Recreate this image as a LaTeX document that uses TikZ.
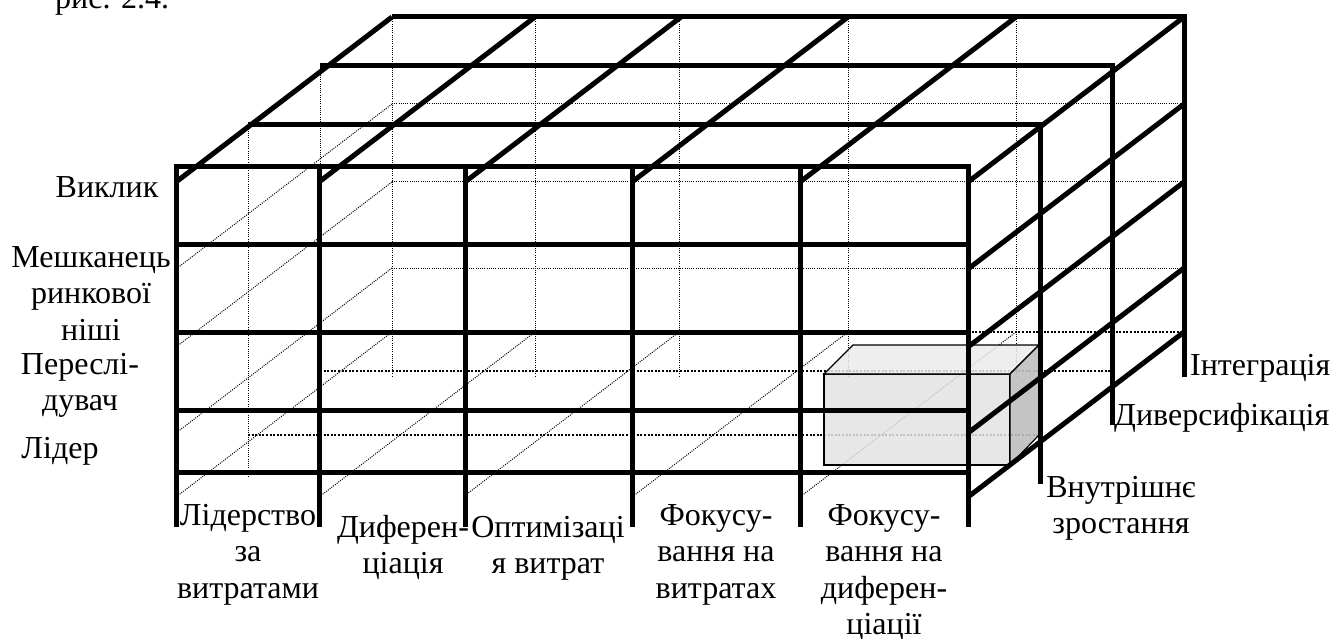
\documentclass[tikz,border=0pt]{standalone}
\usepackage{fontspec}
\setmainfont{Liberation Serif}
\newcommand\lbl[1]{\begin{tabular}[t]{@{}c@{}}#1\end{tabular}}
\begin{document}
\begin{tikzpicture}[x=1pt,y=-1pt,
  thickline/.style={line width=5pt, line join=miter},
  fdot/.style={line width=1pt, dash pattern=on 1pt off 1.2pt, black},
  hdot/.style={line width=2.2pt, dash pattern=on 2pt off 1.6pt},
  txt/.style={font=\fontsize{32}{36.5}\selectfont, inner sep=0pt},
  boxedge/.style={draw=black, line width=1.2pt, line join=miter}]
\useasboundingbox (0,0) rectangle (1333,639);

% hidden (dotted) lines
\foreach \y in {104,182,268} \draw[fdot] (392,\y) -- (1184,\y);
\foreach \x in {392,535,679,848,1016} \draw[fdot] (\x,17) -- (\x,377);
\draw[fdot] (248,122) -- (248,477);
\draw[fdot] (320,66) -- (320,425);
\foreach \y in {104,182,268,332} \draw[fdot] (392,\y) -- (176,{\y+165});
\foreach \x in {535,679,848,1016} \draw[fdot] (\x,332) -- ({\x-216},497);
\draw[hdot] (392,332) -- (1184,332);
\draw[hdot] (320,371) -- (1112,371);
\draw[hdot] (248,435) -- (1040,435);

% the highlighted box
\path[boxedge, fill=gray!22, fill opacity=0.85] (824,374) rectangle (1010,465);
\path[boxedge, fill=gray!16, fill opacity=0.85] (824,374) -- (853,345) -- (1039,345) -- (1010,374) -- cycle;
\path[boxedge, fill=gray!50, fill opacity=0.9] (1010,374) -- (1039,345) -- (1039,435) -- (1010,465) -- cycle;

% planes: top edge + right edge
\draw[thickline] (392,17) -- (1184,17) -- (1184,377);
\draw[thickline] (320,66) -- (1112,66) -- (1112,425);
\draw[thickline] (248,125) -- (1040,125) -- (1040,484);
\draw[thickline] (176,527) -- (176,167) -- (968,167) -- (968,527);
% front grid
\foreach \x in {319,465,632,800} \draw[thickline] (\x,167) -- (\x,527);
\foreach \y in {244,332,410,472} \draw[thickline] (176,\y) -- (968,\y);
% top face diagonals
\foreach \x in {176,319,465,632,800,968} \draw[thickline] (\x,182) -- ({\x+216},17);
% right face diagonals
\foreach \y in {104,182,268,332} \draw[thickline] (968,{\y+165}) -- (1184,\y);

% labels
\node[txt, anchor=base west] (fig) at (55,9) {рис. 2.4.};
\node[txt, anchor=base] (vyklyk) at (107,198) {Виклик};
\node[txt, anchor=base] (nisha) at (91,267) {\lbl{Мешканець\\ринкової\\ніші}};
\node[txt, anchor=base] (pereslid) at (80,374) {\lbl{Переслі-\\дувач}};
\node[txt, anchor=base] (lider) at (60,458) {Лідер};
\node[txt, anchor=base] (c1) at (248,525) {\lbl{Лідерство\\за\\витратами}};
\node[txt, anchor=base] (c2) at (403,537) {\lbl{Диферен-\\ціація}};
\node[txt, anchor=base] (c3) at (548,537) {\lbl{Оптимізаці\\я витрат}};
\node[txt, anchor=base] (c4) at (716,525) {\lbl{Фокусу-\\вання на\\витратах}};
\node[txt, anchor=base] (c5) at (884,525) {\lbl{Фокусу-\\вання на\\диферен-\\ціації}};
\node[txt, anchor=base west] (integr) at (1190,375) {Інтеграція};
\node[txt, anchor=base west] (divers) at (1114,425) {Диверсифікація};
\node[txt, anchor=base] (vnutr) at (1121,497) {\lbl{Внутрішнє\\зростання}};
\end{tikzpicture}
\end{document}
